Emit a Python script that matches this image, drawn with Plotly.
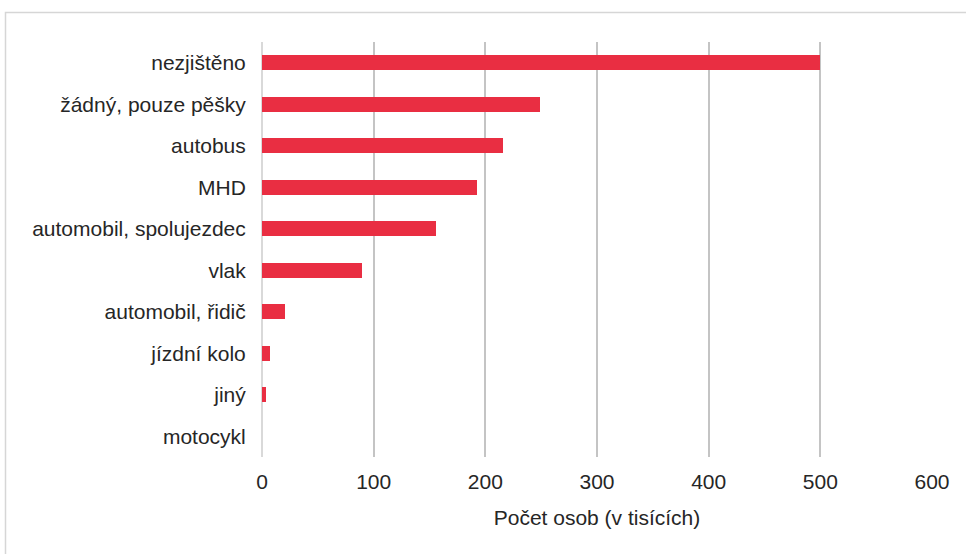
import plotly.graph_objects as go

# Způsob dopravy (top to bottom) and number of persons in thousands
categories = [
    "nezjištěno",
    "žádný, pouze pěšky",
    "autobus",
    "MHD",
    "automobil, spolujezdec",
    "vlak",
    "automobil, řidič",
    "jízdní kolo",
    "jiný",
    "motocykl",
]
values = [500, 249, 216, 192.5, 156, 89.5, 21, 7.5, 3.5, 0]

x_ticks = [0, 100, 200, 300, 400, 500, 600]
x_title = "Počet osob (v tisících)"

W, H = 966, 554
ML, MR, MT, MB = 262, 34, 42, 97
pw, ph = W - ML - MR, H - MT - MB

fig = go.Figure(
    go.Bar(
        x=values,
        y=categories,
        orientation="h",
        width=0.36,
        marker=dict(color="#E92E42", line=dict(width=0)),
        hoverinfo="x+y",
    )
)

font = dict(family="Liberation Sans, Arial, sans-serif", size=21, color="#262626")

fig.update_layout(
    width=W,
    height=H,
    margin=dict(l=ML, r=MR, t=MT, b=MB, pad=0),
    paper_bgcolor="white",
    plot_bgcolor="white",
    font=font,
    showlegend=False,
    bargap=0,
    xaxis=dict(
        range=[0, 600],
        tickvals=x_ticks,
        ticktext=[str(v) for v in x_ticks],
        showgrid=True,
        gridcolor="#c4c4c4",
        gridwidth=2,
        zeroline=True,
        zerolinecolor="#d9d9d9",
        zerolinewidth=2,
        showline=False,
        ticks="outside",
        ticklen=6,
        tickcolor="rgba(0,0,0,0)",
        title=dict(text=x_title, standoff=18, font=font),
        fixedrange=True,
    ),
    yaxis=dict(
        categoryorder="array",
        categoryarray=categories,
        autorange="reversed",
        showgrid=False,
        zeroline=False,
        showline=False,
        ticks="outside",
        ticklen=11,
        tickcolor="rgba(0,0,0,0)",
        fixedrange=True,
    ),
    shapes=[
        # light frame around the chart area
        dict(
            type="rect",
            xref="paper",
            yref="paper",
            x0=(5.5 - ML) / pw,
            x1=(W + 20 - ML) / pw,
            y0=(H - MB - (H + 20)) / ph,
            y1=(H - MB - 12.5) / ph,
            line=dict(color="#d6d6d6", width=1.5),
            fillcolor="rgba(0,0,0,0)",
            layer="below",
        )
    ],
)

fig.write_html("out.html")
